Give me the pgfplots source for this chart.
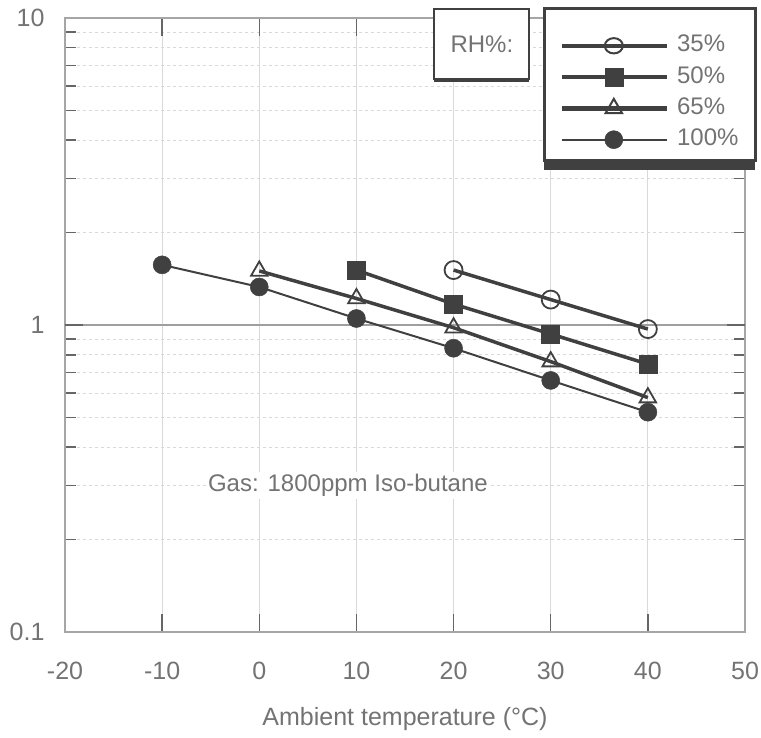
\documentclass[border=0pt]{standalone}
\usepackage{fontspec}
\setmainfont{Liberation Sans}
\usepackage{pgfplots}
\pgfplotsset{compat=1.18}
\usetikzlibrary{shadows}

\definecolor{ink}{gray}{0.25}
\definecolor{txt}{gray}{0.45}
\newcommand{\bigf}{\fontsize{24}{28}\selectfont}

\begin{document}
\begin{tikzpicture}
\begin{axis}[
    name=ax,
    scale only axis,
    width=680pt, height=614pt,
    ymode=log,
    xmin=-20, xmax=50, ymin=0.1, ymax=10,
    xtick={-20,-10,...,50},
    ytick={0.1,1,10}, yticklabels={0.1,1,10},
    /pgf/number format/assume math mode=true,
    tick label style={font=\fontsize{25}{28}\selectfont, text=txt},
    label style={font=\fontsize{25}{28}\selectfont, text=txt},
    xlabel={Ambient temperature (°C)},
    xticklabel style={yshift=-27pt},
    xlabel style={yshift=-20pt},
    yticklabel style={xshift=-17pt},
    axis line style={gray!70, line width=1.5pt},
    tick style={black!60, line width=1.5pt},
    major tick length=18pt, minor tick length=11pt,
    grid=both,
    major grid style={gray!30, line width=0.8pt},
    minor grid style={gray!30, dashed, line width=0.7pt},
    extra y ticks={1}, extra y tick labels={},
    extra y tick style={grid=major, major grid style={gray!75, line width=1.8pt}},
    clip=false,
    legend style={
        at={(axis description cs:0.727,0.973)}, anchor=north west,
        draw=none, fill=none, inner sep=0pt,
        font=\bigf, text=txt,
        nodes={inner sep=0pt, text height=17pt, text depth=5pt},
        row sep=9.3pt, column sep=8pt,
    },
    legend cell align=left,
    legend image code/.code={
        \draw[mark repeat=2, mark phase=2] plot coordinates {(0pt,0pt) (52pt,0pt) (105pt,0pt)};
    },
]
% legend frame and RH box, drawn first so the legend sits on top
\node[draw=ink, line width=3pt, fill=white, minimum width=211pt, minimum height=152pt,
      drop shadow={shadow xshift=0pt, shadow yshift=-10pt, fill=ink, opacity=1}]
    at (axis description cs:0.860,0.892) {};
\node[draw=ink, line width=1.8pt, fill=white, minimum width=95pt, minimum height=70pt,
      text=txt, font=\bigf,
      drop shadow={shadow xshift=0pt, shadow yshift=-3.5pt, fill=ink, opacity=1}]
    at (axis description cs:0.613,0.958) {RH\%:};

\addplot[ink, line width=3.5pt, mark=o, mark size=9pt,
    mark options={fill=white, line width=1.8pt},
    legend image post style={line width=4.5pt, mark options={line width=2pt, yscale=0.85}}]
    coordinates {(20,1.51) (30,1.21) (40,0.97)};
\addlegendentry{35\%}
\addplot[ink, line width=3.5pt, mark=square*, mark size=9pt,
    mark options={line width=0.5pt},
    legend image post style={line width=4.5pt}]
    coordinates {(10,1.51) (20,1.17) (30,0.935) (40,0.746)};
\addlegendentry{50\%}
\addplot[ink, line width=3.5pt, mark=triangle, mark size=9.5pt,
    mark options={fill=white, line width=1.8pt},
    legend image post style={line width=4.5pt, mark options={line width=2pt}}]
    coordinates {(0,1.50) (10,1.22) (20,0.98) (30,0.76) (40,0.58)};
\addlegendentry{65\%}
\addplot[ink, line width=2pt, mark=*, mark size=9pt,
    mark options={line width=0.5pt}]
    coordinates {(-10,1.57) (0,1.33) (10,1.05) (20,0.84) (30,0.66) (40,0.52)};
\addlegendentry{100\%}

\node[anchor=west, fill=white, inner sep=2pt, text=txt, font=\bigf]
    at (axis cs:-5.5,0.3) {Gas: 1800ppm Iso-butane};
\end{axis}
\pgfresetboundingbox
\path (ax.south west) ++(-65pt,-105pt) coordinate (bl);
\path (ax.north east) ++(16pt,18pt) coordinate (tr);
\path[use as bounding box] (bl) rectangle (tr);
\end{tikzpicture}
\end{document}
